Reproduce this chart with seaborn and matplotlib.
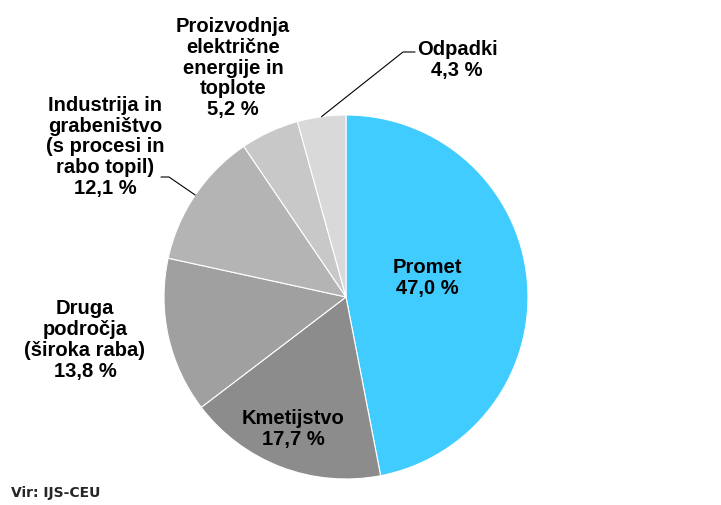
import matplotlib
matplotlib.use("Agg")
import matplotlib.pyplot as plt
import seaborn as sns
import numpy as np

# data
labels = ["Promet", "Kmetijstvo", "Druga\npodročja\n(široka raba)",
          "Industrija in\ngrabeništvo\n(s procesi in\nrabo topil)",
          "Proizvodnja\nelektrične\nenergije in\ntoplote", "Odpadki"]
shares = [47.0, 17.7, 13.8, 12.1, 5.2, 4.3]
colors = ["#40CCFF", "#8C8C8C", "#A0A0A0", "#B4B4B4", "#C8C8C8", "#D9D9D9"]

sns.set_style("white")
plt.rcParams["font.family"] = ["Liberation Sans", "DejaVu Sans"]

fig = plt.figure(figsize=(7.21, 5.05), dpi=100)
ax = fig.add_axes([0, 0, 1, 1])
H = 505
cx, cy, r = 346, H - 297, 182

wedges, _ = ax.pie(shares, colors=colors, startangle=90, counterclock=False,
                   center=(cx, cy), radius=r, frame=True,
                   wedgeprops=dict(edgecolor="white", linewidth=0.8))
ax.set_xlim(0, 721)
ax.set_ylim(0, H)
ax.set_aspect("equal")
ax.axis("off")

def fmt(v):
    return f"{v:.1f}".replace(".", ",") + " %"

# label centres in pixel coords (x, y from top)
pos = [(427, 278), (293, 429), (85, 340), (105, 147), (233, 68), (457, 60)]
for lab, v, (px, py) in zip(labels, shares, pos):
    ax.text(px, H - py, lab + "\n" + fmt(v), ha="center", va="center",
            fontsize=14.5, fontweight="bold", linespacing=1.13, color="black")

# leader lines from wedge mid-angle to label
def edge_point(w):
    ang = np.deg2rad((w.theta1 + w.theta2) / 2)
    return cx + r * np.cos(ang), cy + r * np.sin(ang)

x0, y0 = edge_point(wedges[5])
ax.plot([x0, 403, 415], [y0, H - 52, H - 52], color="black", lw=0.8)
x0, y0 = edge_point(wedges[3])
ax.plot([x0, 169, 161], [y0, H - 177, H - 177], color="black", lw=0.8)

ax.text(11, H - 493, "Vir: IJS-CEU", ha="left", va="center", fontsize=10,
        fontweight="bold", family=["DejaVu Sans"])

fig.savefig("out.png", dpi=100)
